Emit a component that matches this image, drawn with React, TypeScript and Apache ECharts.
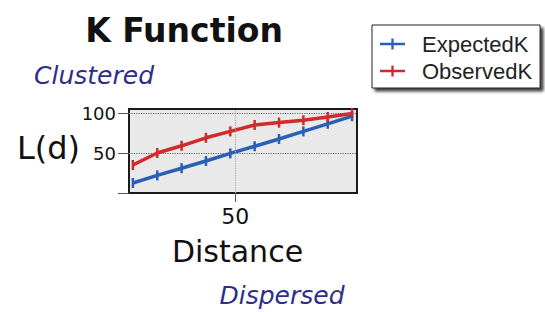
import React, { useEffect, useRef } from "react";
import * as echarts from "echarts";

const distances = [10.5, 19.9, 29.3, 38.7, 48.1, 57.5, 66.9, 76.3, 85.7, 95.1];
const expectedK = [12.5, 22, 31, 40, 49.5, 58.5, 67.5, 77, 86.5, 96];
const observedK = [35, 50, 59, 69, 77, 85, 88, 91, 95, 99.5];
const xTicks = [50];
const yTicks = [0, 50, 100];
const yLabels = [50, 100];

export default function App() {
  const ref = useRef<HTMLDivElement>(null);
  useEffect(() => {
    const chart = echarts.init(ref.current!, null, { renderer: "svg" });
    const font = "DejaVu Sans";
    const marker = { symbol: "rect", symbolSize: [2.5, 10], showSymbol: true };
    const legendIcon =
      "path://M0,5 L26,5 L26,7.5 L0,7.5 Z M11.8,0.5 L14.2,0.5 L14.2,12 L11.8,12 Z";
    chart.setOption({
      animation: false,
      backgroundColor: "#ffffff",
      grid: {
        left: 129,
        top: 109,
        width: 228,
        height: 84,
        show: true,
        backgroundColor: "#e9e9e9",
        borderColor: "#1a1a1a",
        borderWidth: 2,
      },
      xAxis: {
        type: "value",
        min: 9,
        max: 97,
        splitLine: { show: false },
        axisLine: { show: true, lineStyle: { color: "#1a1a1a", width: 2 } },
        axisTick: { show: true, length: 9, customValues: xTicks, lineStyle: { color: "#555", width: 1 } },
        axisLabel: { customValues: xTicks, fontFamily: font, fontSize: 22, color: "#111", margin: 12 },
      },
      yAxis: {
        type: "value",
        min: 0,
        max: 105,
        splitLine: { show: false },
        axisLine: { show: true, lineStyle: { color: "#1a1a1a", width: 2 } },
        axisTick: { show: true, length: 11, customValues: yTicks, lineStyle: { color: "#555", width: 1 } },
        axisLabel: { customValues: yLabels, fontFamily: font, fontSize: 18, color: "#111", margin: 13 },
      },
      legend: {
        orient: "vertical",
        left: 372,
        top: 25,
        data: [
          { name: "ExpectedK", icon: legendIcon },
          { name: "ObservedK", icon: legendIcon },
        ],
        backgroundColor: "#ffffff",
        borderColor: "#222",
        borderWidth: 1,
        shadowColor: "rgba(0,0,0,0.75)",
        shadowBlur: 3,
        shadowOffsetX: 3,
        shadowOffsetY: 3,
        padding: [8, 8, 6, 8],
        itemGap: 5,
        itemWidth: 25,
        itemHeight: 12,
        textStyle: { fontFamily: "Liberation Sans", fontSize: 22, color: "#222", padding: [0, 0, 0, 12] },
      },
      graphic: [
        { type: "text", x: 184, y: 30.5, style: { text: "K Function", font: `bold 33px ${font}`, fill: "#111", align: "center", verticalAlign: "middle" } },
        { type: "text", x: 94, y: 75, style: { text: "Clustered", font: `italic 25px ${font}`, fill: "#2e2e8a", align: "center", verticalAlign: "middle" } },
        { type: "text", x: 282, y: 295, style: { text: "Dispersed", font: `italic 25px ${font}`, fill: "#2e2e8a", align: "center", verticalAlign: "middle" } },
        { type: "text", x: 48.5, y: 148, style: { text: "L(d)", font: `32px ${font}`, fill: "#111", align: "center", verticalAlign: "middle" } },
        { type: "text", x: 237.5, y: 251, style: { text: "Distance", font: `30px ${font}`, fill: "#111", align: "center", verticalAlign: "middle" } },
      ],
      series: [
        {
          name: "gridlines",
          type: "line",
          data: [],
          z: 1,
          markLine: {
            silent: true,
            symbol: "none",
            label: { show: false },
            lineStyle: { type: "dotted", color: "#666", width: 1.2 },
            data: [{ yAxis: 50 }, { yAxis: 100 }, { xAxis: 50, lineStyle: { color: "#aaa" } }],
          },
        },
        {
          name: "ExpectedK",
          type: "line",
          data: distances.map((d, i) => [d, expectedK[i]]),
          ...marker,
          color: "#2a5fb8",
          lineStyle: { width: 3.5, color: "#2a5fb8" },
          itemStyle: { color: "#2a5fb8" },
          z: 3,
        },
        {
          name: "ObservedK",
          type: "line",
          data: distances.map((d, i) => [d, observedK[i]]),
          ...marker,
          color: "#d02a2a",
          lineStyle: { width: 3.5, color: "#d02a2a" },
          itemStyle: { color: "#d02a2a" },
          z: 3,
        },
      ],
    });
    return () => chart.dispose();
  }, []);
  return <div ref={ref} style={{ position: "absolute", left: 0, top: 0, width: 545, height: 312 }} />;
}
